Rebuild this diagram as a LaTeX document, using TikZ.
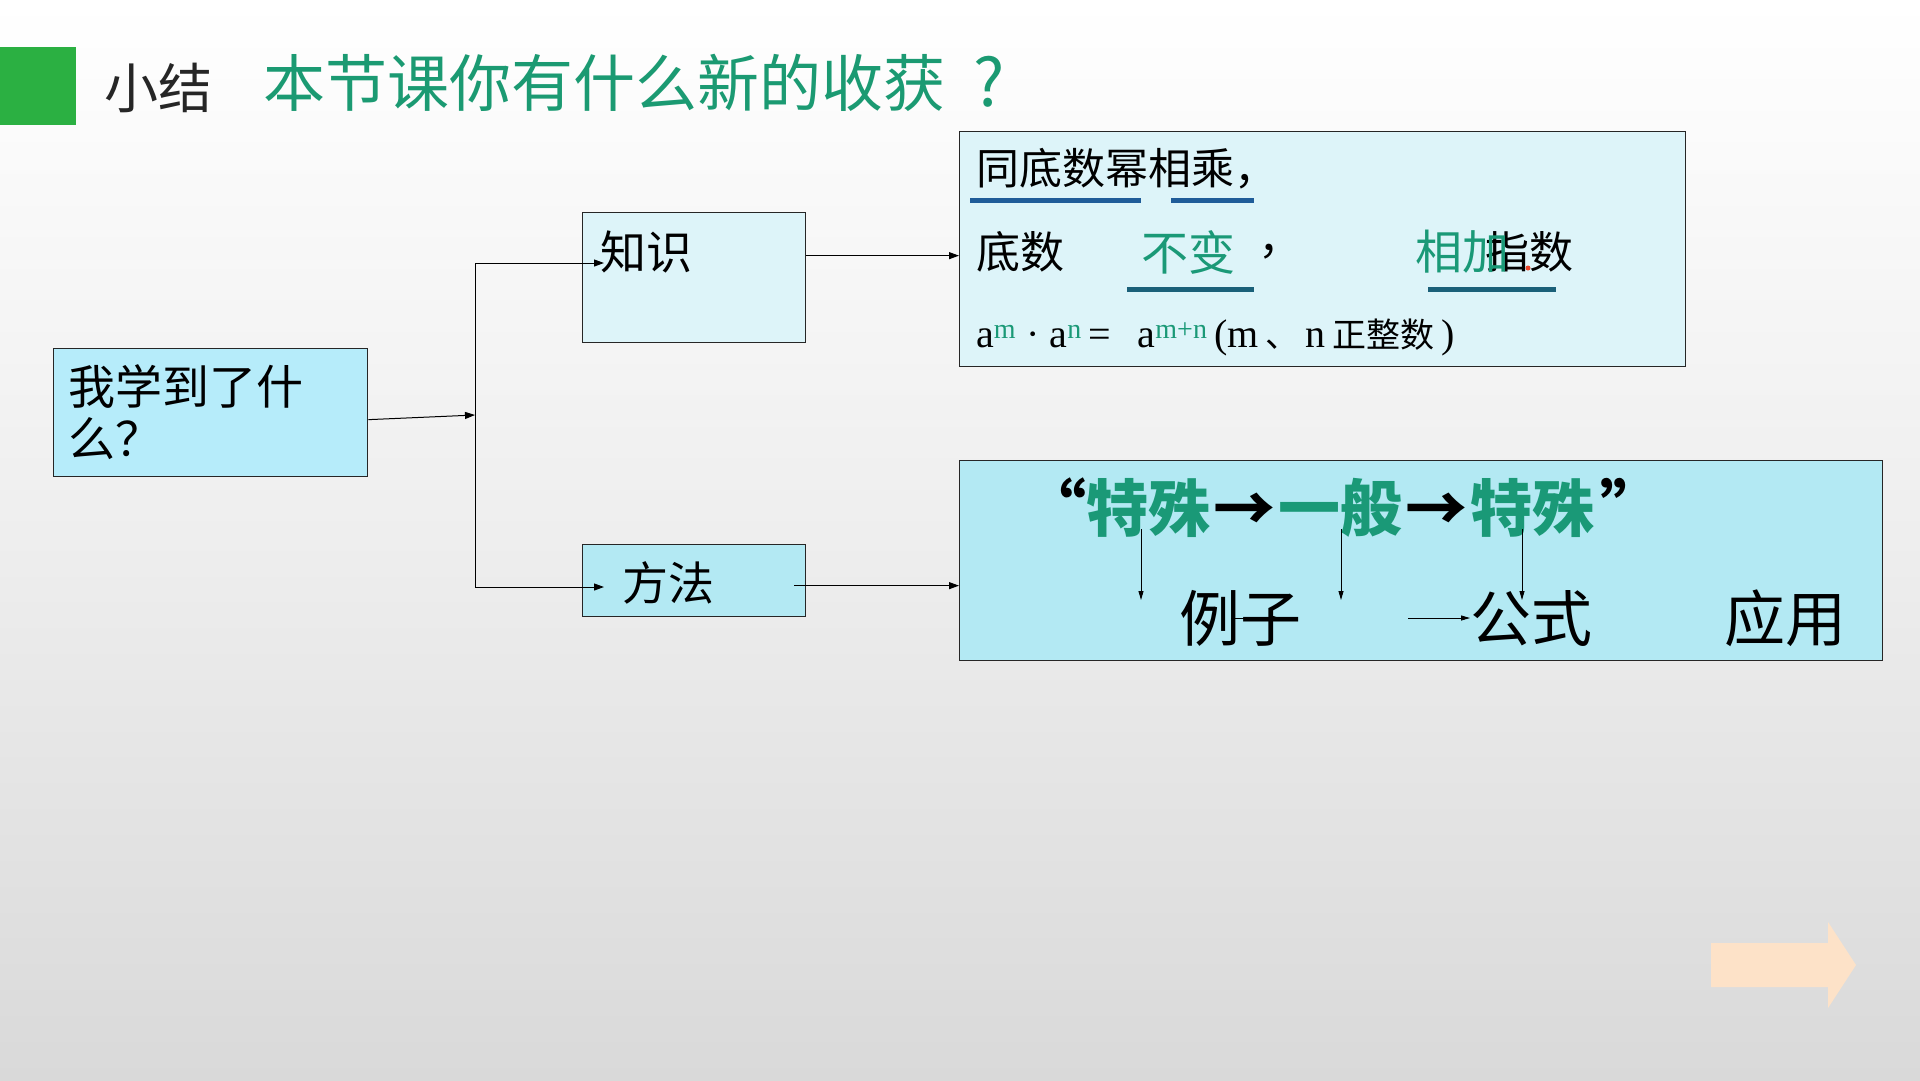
\documentclass[tikz,border=0pt]{standalone}
\usepackage{fontspec}
\setmainfont{Liberation Serif}
\newfontfamily\cjk{Noto Sans CJK SC}
\usetikzlibrary{arrows.meta}
\definecolor{titlegreen}{HTML}{1B9A72}
\definecolor{sqgreen}{HTML}{2BB042}
\definecolor{boxA}{HTML}{B6ECFA}
\definecolor{boxB}{HTML}{DDF4F9}
\definecolor{boxC}{HTML}{B3E9F3}
\definecolor{ulblue}{HTML}{1F5C99}
\definecolor{ulteal}{HTML}{1A6079}
\definecolor{navarrow}{HTML}{FDE2C8}
\definecolor{bggray}{HTML}{D9D9D9}
\definecolor{dotred}{HTML}{E8442A}
\definecolor{txtgreen}{HTML}{1A9977}
\tikzset{
  box/.style={draw=black!85, line width=1.3pt, anchor=north west, inner sep=0pt},
  txt/.style={inner sep=0pt, anchor=west},
  arr/.style={draw=black, line width=1pt, -{Triangle[length=10pt,width=7pt]}},
  thinarr/.style={draw=black, line width=0.9pt, -{Triangle[length=9pt,width=5pt]}},
  uline/.style={line width=5pt},
}
\begin{document}
\begin{tikzpicture}[x=1pt,y=-1pt]
\useasboundingbox (0,0) rectangle (1920,1080);
\shade[top color=white, bottom color=bggray, middle color=white!55!bggray] (0,0) rectangle (1920,1080);
% header
\fill[sqgreen] (0,47) rectangle (76,125);
\node[txt, text=black!85] (xj) at (104,88) {\cjk\fontsize{54}{60}\selectfont 小结};
\node[txt, text=titlegreen] (title) at (263,83) {\cjk\fontsize{62}{70}\selectfont 本节课你有什么新的收获\hspace{28pt}\fontsize{66}{70}\selectfont ?};
% boxes
\node[box, fill=boxA, minimum width=314pt, minimum height=128pt] (q) at (53,348) {};
\node[box, fill=boxB, minimum width=223pt, minimum height=130pt] (k) at (582,212) {};
\node[box, fill=boxC, minimum width=223pt, minimum height=72pt] (m) at (582,544) {};
\node[box, fill=boxB, minimum width=726pt, minimum height=235pt] (kb) at (959,131) {};
\node[box, fill=boxC, minimum width=923pt, minimum height=200pt] (mb) at (959,460) {};
% box texts
\node[txt, align=left, font=\cjk\fontsize{47}{52}\selectfont] (qt) at (68,412) {我学到了什\\么？};
\node[txt, font=\cjk\fontsize{46}{52}\selectfont] (kt) at (600,252) {知识};
\node[txt, font=\cjk\fontsize{46}{52}\selectfont] (mt) at (622,583) {方法};
% connectors
\coordinate (j) at (475,415);
\coordinate (ktip) at (604,263);
\coordinate (mtip) at (604,587);
\draw[arr] ([yshift=-7pt]q.east) -- (j);
\draw[arr] (j) |- (ktip);
\draw[arr] (j) |- (mtip);
\path ([yshift=22pt]k.east) coordinate (k1);
\draw[arr] (k1) -- (k1 -| kb.west);
\path ([xshift=-12pt,yshift=-5pt]m.east) coordinate (m1);
\draw[arr] (m1) -- (m1 -| mb.west);
% knowledge box content
\node[txt, font=\cjk\fontsize{43}{50}\selectfont] (l1) at (976,169) {同底数幂相乘，};
\draw[ulblue, uline] (970,200) -- (1141,200);
\draw[ulblue, uline] (1171,200) -- (1254,200);
\node[txt, font=\cjk\fontsize{44}{50}\selectfont] (l2a) at (976,252) {底数};
\node[txt, text=txtgreen, font=\cjk\fontsize{47}{50}\selectfont] (l2b) at (1141,252) {不变};
\node[txt, font=\cjk\fontsize{44}{50}\selectfont] (l2c) at (1258,252) {，};
\node[txt, font=\cjk\fontsize{44}{50}\selectfont] (l2e) at (1485,252) {指数};
\node[txt, text=txtgreen, font=\cjk\fontsize{47}{50}\selectfont] (l2d) at (1415,252) {相加};
\fill[dotred] (1528,268) circle (2.5);
\draw[ulteal, uline] (1127,289) -- (1254,289);
\draw[ulteal, uline] (1428,289) -- (1556,289);
\node[txt, font=\fontsize{40}{46}\selectfont] (l3) at (976,337)
  {a\textsuperscript{\color{txtgreen}m}\ ·\ a\textsuperscript{\color{txtgreen}n}\,=\ \ \,a\textsuperscript{\color{txtgreen}m+n}\,(m\,{\cjk\fontsize{34}{40}\selectfont 、}\,n\,{\cjk\fontsize{34}{40}\selectfont 正整数}\,)};
% method box content
\node[txt, font=\cjk\bfseries\fontsize{62}{70}\selectfont] (p1) at (1024,508)
  {“\textcolor{txtgreen}{特殊}\hspace{3pt}→\hspace{3pt}\textcolor{txtgreen}{一般}\hspace{3pt}→\hspace{3pt}\textcolor{txtgreen}{特殊}\hspace{6pt}”};
\node[txt, font=\cjk\fontsize{61}{70}\selectfont] (e1) at (1179,618) {例子};
\node[txt, font=\cjk\fontsize{61}{70}\selectfont] (e2) at (1470,618) {公式};
\node[txt, font=\cjk\fontsize{61}{70}\selectfont] (e3) at (1724,618) {应用};
\coordinate (d1a) at (1141,529); \coordinate (d1b) at (1141,600);
\coordinate (d2a) at (1341,529); \coordinate (d2b) at (1341,600);
\coordinate (d3a) at (1522,529); \coordinate (d3b) at (1522,600);
\draw[thinarr] (d1a) -- (d1b);
\draw[thinarr] (d2a) -- (d2b);
\draw[thinarr] (d3a) -- (d3b);
\coordinate (h1a) at (1231,618); \coordinate (h1b) at (1280,618);
\coordinate (h2a) at (1408,618); \coordinate (h2b) at (1470,618);
\draw[thinarr] (h1a) -- (h1b);
\draw[thinarr] (h2a) -- (h2b);
% nav arrow
\fill[navarrow] (1711,943) -- (1828,943) -- (1828,922) -- (1856,965) -- (1828,1008) -- (1828,987) -- (1711,987) -- cycle;
\end{tikzpicture}
\end{document}
